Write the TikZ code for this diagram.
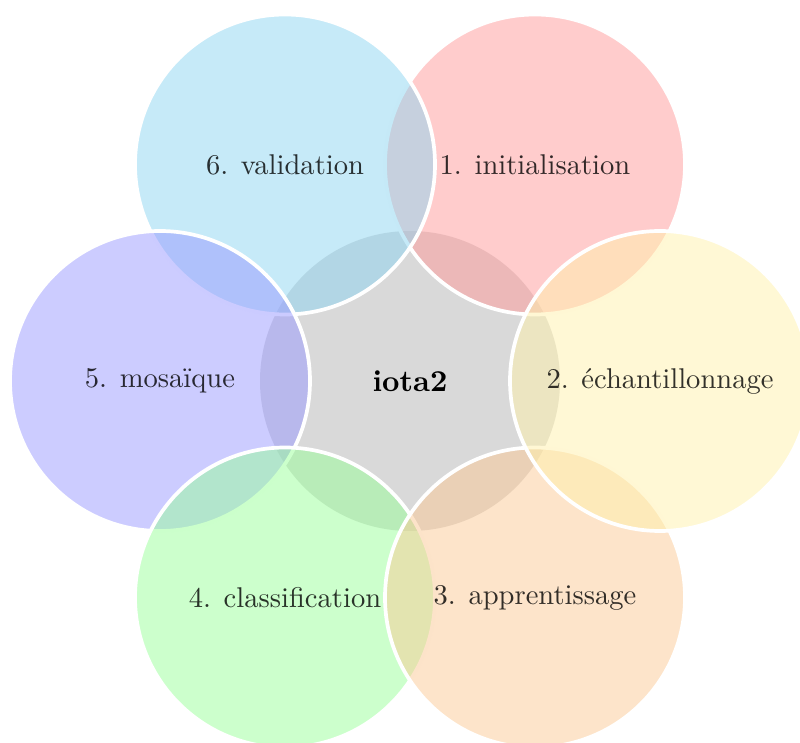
\documentclass[tikz,border=0pt]{standalone}
\definecolor{cRed}{RGB}{255,153,153}
\definecolor{cCyan}{RGB}{141,213,241}
\definecolor{cBlue}{RGB}{153,153,255}
\definecolor{cGreen}{RGB}{153,255,153}
\definecolor{cOrange}{RGB}{251,201,149}
\definecolor{cYellow}{RGB}{255,241,171}
\definecolor{cCenter}{RGB}{217,217,217}
\begin{document}
\begin{tikzpicture}[x=0.35pt, y=-0.35pt,
  bubble/.style={circle, inner sep=0pt, outer sep=0pt, minimum size=105pt,
    draw=white, line width=1.3pt, fill opacity=0.5, text opacity=0.8,
    text=black, font=\fontsize{10}{12}\selectfont},
  centerbubble/.style={circle, inner sep=0pt, outer sep=0pt, minimum size=105pt,
    fill=cCenter, font=\fontsize{10.6}{12.5}\selectfont\bfseries}]
\useasboundingbox (0,0) rectangle (800,743);
\clip (0,0) rectangle (800,743);
\node[centerbubble] (c) at (410,381) {iota2};
\node[bubble, fill=cRed]    (b1) at (535,164.5) {1. initialisation};
\node[bubble, fill=cCyan]   (b6) at (285,164.5) {6. validation};
\node[bubble, fill=cBlue]   (b5) at (160,381)   {5. mosaïque};
\node[bubble, fill=cGreen]  (b4) at (285,597.5) {4. classification};
\node[bubble, fill=cOrange] (b3) at (535,597.5) {3. apprentissage};
\node[bubble, fill=cYellow] (b2) at (660,381)   {2. échantillonnage};
\end{tikzpicture}
\end{document}
